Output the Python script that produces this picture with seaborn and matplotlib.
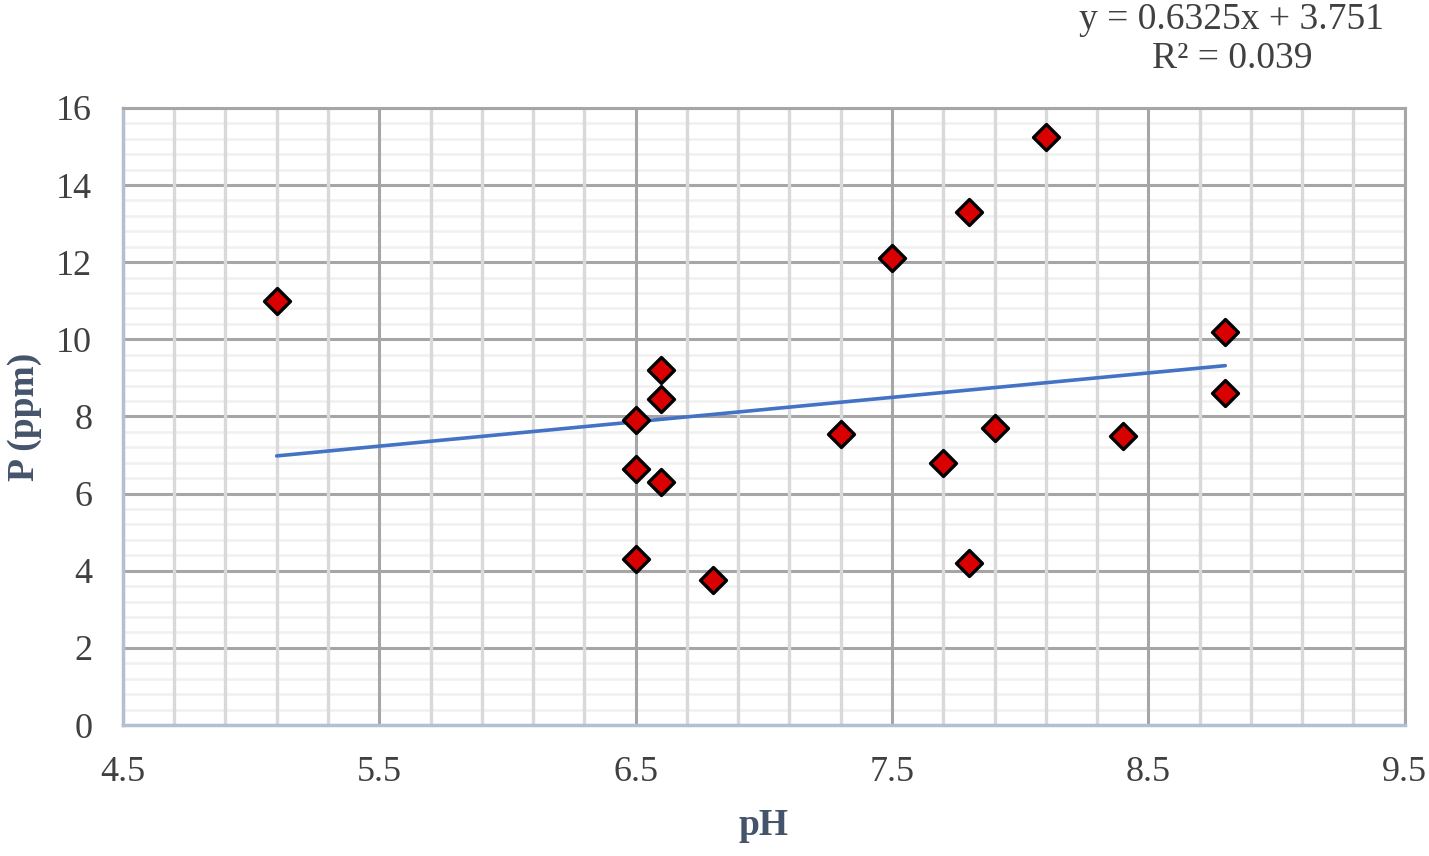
import matplotlib
matplotlib.use("Agg")
import matplotlib.pyplot as plt
import seaborn as sns
import numpy as np
import pandas as pd
from matplotlib.ticker import MultipleLocator

# Data
ph = [5.1, 6.5, 6.5, 6.5, 6.6, 6.6, 6.6, 6.8, 7.3, 7.5, 7.7, 7.8, 7.8, 7.9, 8.1, 8.4, 8.8, 8.8]
p_ppm = [11.0, 7.9, 6.65, 4.3, 9.2, 8.45, 6.3, 3.75, 7.55, 12.1, 6.8, 13.3, 4.2, 7.7, 15.25, 7.5, 10.2, 8.6]
slope = 0.6325
intercept = 3.751
r2 = 0.039
x_ticks = [4.5, 5.5, 6.5, 7.5, 8.5, 9.5]
x_tick_labels = ["4.5", "5.5", "6.5", "7.5", "8.5", "9.5"]

df = pd.DataFrame({"pH": ph, "P": p_ppm})
x_fit = np.array([min(ph), max(ph)])
fit_df = pd.DataFrame({"pH": x_fit, "P": slope * x_fit + intercept})

sns.set_theme(style="white")
plt.rcParams["font.family"] = ["Liberation Serif", "DejaVu Serif"]

fig = plt.figure(figsize=(14.29, 8.56), dpi=100)
ax = fig.add_axes([0.086, 0.153, 0.897, 0.721])

ax.set_xlim(4.5, 9.5)
ax.set_ylim(0, 16)
ax.set_xticks(x_ticks)
ax.set_xticklabels(x_tick_labels)
ax.xaxis.set_minor_locator(MultipleLocator(0.2, offset=0.1))
ax.yaxis.set_major_locator(MultipleLocator(2))
ax.yaxis.set_minor_locator(MultipleLocator(0.4))

ax.grid(which="major", axis="both", color="#A6A6A6", linewidth=2.2)
ax.grid(which="minor", axis="x", color="#D9D9D9", linewidth=2.4)
ax.grid(which="minor", axis="y", color="#F0F0F0", linewidth=1.8)
ax.set_axisbelow(True)
# vertical grid lines drawn over horizontal ones
ax.yaxis.set_zorder(0.3)
ax.xaxis.set_zorder(0.4)

sns.lineplot(data=fit_df, x="pH", y="P", color="#4472C4", linewidth=2.6, ax=ax, zorder=2)
sns.scatterplot(data=df, x="pH", y="P", marker="D", s=175, color="#D80000",
                edgecolor="black", linewidth=2.4, ax=ax, zorder=3)

ax.tick_params(axis="both", which="both", length=0, labelsize=26, colors="#404040")
ax.tick_params(axis="x", pad=22)
ax.tick_params(axis="y", pad=22)

ax.set_xlabel("pH", fontsize=27, fontweight="bold", color="#44546A", labelpad=14)
ax.set_ylabel("P (ppm)", fontsize=27, fontweight="bold", color="#44546A", labelpad=10)

for side in ["left", "bottom"]:
    ax.spines[side].set_color("#B4BFD3")
    ax.spines[side].set_linewidth(2.5)
for side in ["top", "right"]:
    ax.spines[side].set_color("#A6A6A6")
    ax.spines[side].set_linewidth(2.2)

fig.text(0.862, 0.997, f"y = {slope}x + {intercept}\nR² = {r2}", ha="center", va="top",
         fontsize=27, color="#404040", linespacing=1.15)

fig.savefig("out.png", dpi=100)
